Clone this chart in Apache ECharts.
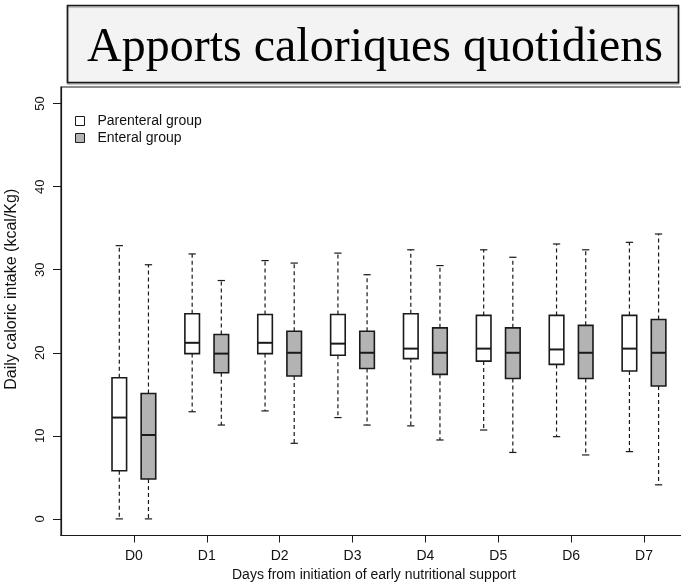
<!DOCTYPE html>
<html>
<head>
<meta charset="utf-8">
<script src="https://cdn.jsdelivr.net/npm/echarts@6/dist/echarts.min.js"></script>
<style>
  html, body { margin: 0; padding: 0; background: #fff; }
  #chart { width: 681px; height: 585px; }
</style>
</head>
<body>
<div id="chart"></div>
<script>
// Days after start of early nutritional support
const days = ['D0', 'D1', 'D2', 'D3', 'D4', 'D5', 'D6', 'D7'];
const yTicks = [0, 10, 20, 30, 40, 50];

// Box statistics per day: [min, Q1, median, Q3, max] (kcal/kg/day)
const parenteral = [
  [0.0, 5.8, 12.2, 17.0, 32.9],
  [12.9, 19.9, 21.2, 24.7, 31.9],
  [13.0, 19.9, 21.2, 24.6, 31.1],
  [12.2, 19.7, 21.1, 24.6, 32.0],
  [11.2, 19.3, 20.5, 24.7, 32.4],
  [10.7, 19.0, 20.5, 24.5, 32.4],
  [9.9, 18.6, 20.4, 24.5, 33.1],
  [8.1, 17.8, 20.5, 24.5, 33.3]
];
const enteral = [
  [0.0, 4.8, 10.1, 15.1, 30.6],
  [11.3, 17.6, 19.9, 22.2, 28.7],
  [9.1, 17.2, 20.0, 22.6, 30.8],
  [11.3, 18.1, 20.0, 22.6, 29.4],
  [9.5, 17.4, 20.0, 23.0, 30.5],
  [8.0, 16.9, 20.0, 23.0, 31.5],
  [7.7, 16.9, 20.0, 23.3, 32.4],
  [4.1, 16.0, 20.0, 24.0, 34.3]
];

const chart = echarts.init(document.getElementById('chart'), null, { renderer: 'canvas' });

const INK = '#1a1a1a';
const GREY = '#b3b3b3';
const SANS = '"Liberation Sans", Arial, sans-serif';

// R-style box: solid box, thick median, dashed whiskers with short staples
function boxRenderer(shift, fill) {
  return function (params, api) {
    const pos = api.value(0) + shift;
    const lo = api.coord([pos, api.value(1)]);
    const q1 = api.coord([pos, api.value(2)]);
    const md = api.coord([pos, api.value(3)]);
    const q3 = api.coord([pos, api.value(4)]);
    const hi = api.coord([pos, api.value(5)]);
    const half = api.size([0.2, 0])[0] / 2;
    const cap = half / 2;
    const cx = lo[0];
    const dash = { stroke: INK, lineWidth: 1.2, lineDash: [4, 3] };
    const solid = { stroke: INK, lineWidth: 1.2 };
    return {
      type: 'group',
      children: [
        { type: 'line', shape: { x1: cx, y1: q3[1], x2: cx, y2: hi[1] }, style: dash },
        { type: 'line', shape: { x1: cx, y1: q1[1], x2: cx, y2: lo[1] }, style: dash },
        { type: 'line', shape: { x1: cx - cap, y1: hi[1], x2: cx + cap, y2: hi[1] }, style: solid },
        { type: 'line', shape: { x1: cx - cap, y1: lo[1], x2: cx + cap, y2: lo[1] }, style: solid },
        { type: 'rect', shape: { x: cx - half, y: q3[1], width: half * 2, height: q1[1] - q3[1] },
          style: { fill: fill, stroke: INK, lineWidth: 1.6 } },
        { type: 'line', shape: { x1: cx - half, y1: md[1], x2: cx + half, y2: md[1] },
          style: { stroke: INK, lineWidth: 2 } }
      ]
    };
  };
}

function toItems(stats) {
  return stats.map((s, i) => [i + 1].concat(s));
}

const option = {
  animation: false,
  backgroundColor: '#ffffff',
  textStyle: { fontFamily: SANS },
  graphic: [
    {
      type: 'rect',
      shape: { x: 67.5, y: 5.5, width: 611, height: 77 },
      style: { fill: '#f3f3f3', stroke: '#1a1a1a', lineWidth: 1.6,
               shadowColor: 'rgba(0,0,0,0.3)', shadowOffsetX: 0, shadowOffsetY: 1.5, shadowBlur: 1 },
      z: 10
    },
    {
      type: 'text',
      x: 375, y: 48,
      style: {
        text: 'Apports caloriques quotidiens',
        font: '48px "Liberation Serif", "Times New Roman", serif',
        fill: '#000',
        textAlign: 'center',
        textVerticalAlign: 'middle'
      },
      z: 11
    }
  ],
  legend: {
    orient: 'vertical',
    left: 70,
    top: 109,
    itemWidth: 9,
    itemHeight: 9,
    itemGap: 3,
    textStyle: { fontSize: 14, color: '#111', fontFamily: SANS, padding: [0, 0, 0, 8] },
    data: [
      { name: 'Parenteral group', icon: 'rect', itemStyle: { color: '#ffffff', borderColor: INK, borderWidth: 1 } },
      { name: 'Enteral group', icon: 'rect', itemStyle: { color: GREY, borderColor: INK, borderWidth: 1 } }
    ]
  },
  grid: {
    left: 61, top: 87, width: 626, height: 448.5,
    outerBoundsMode: 'none',
    containLabel: false,
    show: true, borderColor: INK, borderWidth: 1.2, backgroundColor: 'transparent'
  },
  xAxis: {
    type: 'value',
    min: 0,
    max: 8.59,
    splitLine: { show: false },
    axisLine: { show: true, onZero: false, lineStyle: { color: INK, width: 1.2 } },
    axisTick: { show: true, length: 7, lineStyle: { color: INK }, customValues: days.map((d, i) => i + 1) },
    axisLabel: {
      fontSize: 14, color: '#111', margin: 14,
      customValues: days.map((d, i) => i + 1),
      formatter: v => days[Math.round(v) - 1] || ''
    },
    name: 'Days from initiation of early nutritional support',
    nameLocation: 'middle',
    nameGap: 33,
    nameTextStyle: { fontSize: 14, color: '#111' }
  },
  yAxis: {
    type: 'value',
    min: -2,
    max: 52,
    splitLine: { show: false },
    axisLine: { show: true, onZero: false, lineStyle: { color: INK, width: 1.2 } },
    axisTick: { show: true, length: 8, lineStyle: { color: INK }, customValues: yTicks },
    axisLabel: { fontSize: 13, color: '#111', rotate: 90, margin: 14, customValues: yTicks },
    name: 'Daily caloric intake (kcal/Kg)',
    nameLocation: 'middle',
    nameGap: 41,
    nameTextStyle: { fontSize: 16, color: '#111', padding: [0, 0, 0, 44] }
  },
  series: [
    {
      name: 'Parenteral group',
      type: 'custom',
      renderItem: boxRenderer(-0.2, '#ffffff'),
      itemStyle: { color: '#ffffff', borderColor: INK },
      encode: { x: 0, y: [1, 2, 3, 4, 5] },
      data: toItems(parenteral),
      clip: false
    },
    {
      name: 'Enteral group',
      type: 'custom',
      renderItem: boxRenderer(0.2, GREY),
      itemStyle: { color: GREY, borderColor: INK },
      encode: { x: 0, y: [1, 2, 3, 4, 5] },
      data: toItems(enteral),
      clip: false
    }
  ]
};

chart.setOption(option);
</script>
</body>
</html>
